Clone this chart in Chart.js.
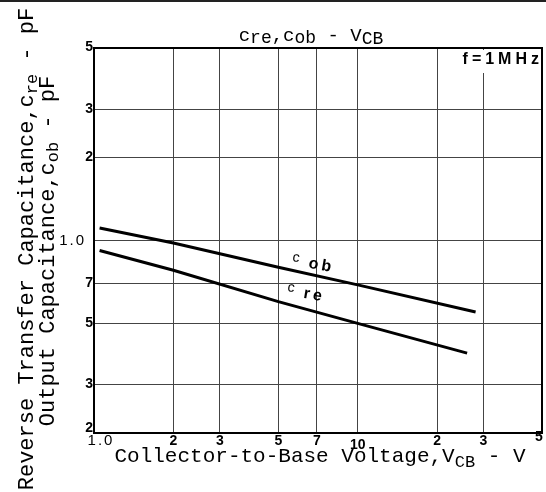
<!DOCTYPE html>
<html>
<head>
<meta charset="utf-8">
<script src="https://cdn.jsdelivr.net/npm/chart.js@4.4.1/dist/chart.umd.min.js"></script>
<style>
  html, body { margin: 0; padding: 0; background: #fff; }
  #wrap { width: 546px; height: 492px; }
</style>
</head>
<body>
<div id="wrap"><canvas id="cap"></canvas></div>
<script>
// Collector-to-base voltage (V) and capacitance readings (pF)
const vcbCob = [1.05, 2, 5, 10, 28];
const cob = [1.11, 0.98, 0.80, 0.69, 0.55];
const vcbCre = [1.05, 2, 5, 10, 26];
const cre = [0.92, 0.78, 0.60, 0.50, 0.39];

const xTicks = [1, 2, 3, 5, 7, 10, 20, 30, 50];
const xTickLabels = ['1.0', '2', '3', '5', '7', '10', '2', '3', '5'];
const yTicks = [0.2, 0.3, 0.5, 0.7, 1, 2, 3, 5];
const yTickLabels = ['2', '3', '5', '7', '1.0', '2', '3', '5'];

const MONO = '"Liberation Mono", "DejaVu Sans Mono", monospace';
const SANS = '"Liberation Sans", Arial, sans-serif';

// draw a run of text pieces [text, size, dy] centred on x
function drawParts(ctx, parts, x, y) {
    let total = 0;
    parts.forEach(p => {
        ctx.font = p[1] + 'px ' + MONO;
        total += ctx.measureText(p[0]).width;
    });
    let cx = x - total / 2;
    parts.forEach(p => {
        ctx.font = p[1] + 'px ' + MONO;
        ctx.fillText(p[0], cx, y + p[2]);
        cx += ctx.measureText(p[0]).width;
    });
}

const decor = {
    id: 'decor',
    afterDraw(chart) {
        const ctx = chart.ctx;
        const a = chart.chartArea;
        const xs = chart.scales.x, ys = chart.scales.y;
        ctx.save();

        // scan edge at the very top
        ctx.fillStyle = '#222';
        ctx.fillRect(0, 0, 546, 2);

        // plot frame
        ctx.strokeStyle = '#000';
        ctx.lineWidth = 2;
        ctx.strokeRect(a.left, a.top, a.right - a.left, a.bottom - a.top);

        // y tick labels
        ctx.fillStyle = '#000';
        ctx.textAlign = 'right';
        ctx.textBaseline = 'middle';
        yTicks.forEach((v, i) => {
            let py = ys.getPixelForValue(v);
            if (i === 0) py -= 5;
            if (i === yTicks.length - 1) py -= 1;
            if (yTickLabels[i] === '1.0') {
                ctx.font = '15px ' + SANS;
                ctx.letterSpacing = '2px';
                ctx.fillText('1.0', 86, py);
                ctx.letterSpacing = '0px';
            } else {
                ctx.font = 'bold 14px ' + SANS;
                ctx.fillText(yTickLabels[i], 93, py);
            }
        });

        // x tick labels
        ctx.textAlign = 'center';
        xTicks.forEach((v, i) => {
            let px = xs.getPixelForValue(v);
            let py = 441;
            if (i === 0) {
                ctx.font = '15px ' + SANS;
                ctx.letterSpacing = '2px';
                ctx.fillText('1.0', px + 7, py);
                ctx.letterSpacing = '0px';
                return;
            }
            if (xTickLabels[i] === '10') py = 445;
            if (i === xTicks.length - 1) { px -= 3; py = 437; }
            ctx.font = 'bold 14px ' + SANS;
            ctx.fillText(xTickLabels[i], px, py);
        });

        // chart title
        ctx.textAlign = 'left';
        ctx.textBaseline = 'alphabetic';
        drawParts(ctx, [['c', 19, 0], ['re', 18, 2], [',c', 19, 0], ['ob', 18, 2],
            [' - V', 19, 0], ['CB', 18, 3]], 311, 41);

        // x axis title
        drawParts(ctx, [['Collector-to-Base Voltage,V', 21, 0], ['CB', 17, 5], [' - V', 21, 0]], 320, 462);

        // y axis titles (two lines, rotated)
        ctx.save();
        ctx.translate(33, 249);
        ctx.rotate(-Math.PI / 2);
        drawParts(ctx, [['Reverse Transfer Capacitance,c', 22, 0], ['re', 17, 4], [' - pF', 22, 0]], 0, 0);
        ctx.restore();
        ctx.save();
        ctx.translate(54, 251);
        ctx.rotate(-Math.PI / 2);
        drawParts(ctx, [['Output Capacitance,c', 22, 0], ['ob', 17, 4], [' - pF', 22, 0]], 0, 0);
        ctx.restore();

        // frequency note
        ctx.fillStyle = '#fff';
        ctx.fillRect(455, 50, 85, 23);
        ctx.fillStyle = '#000';
        ctx.font = 'bold 16px ' + SANS;
        ctx.textAlign = 'right';
        ctx.textBaseline = 'middle';
        ctx.letterSpacing = '4px';
        ctx.fillText('f=1MHz', 543, 60);
        ctx.letterSpacing = '0px';

        // curve labels
        const tag = (c, sub, x, y) => {
            ctx.save();
            ctx.translate(x, y);
            ctx.rotate(0.17);
            ctx.textAlign = 'left';
            ctx.textBaseline = 'alphabetic';
            ctx.font = '14px ' + SANS;
            ctx.fillText(c, 0, 0);
            ctx.font = 'bold 16px ' + SANS;
            ctx.letterSpacing = '3px';
            ctx.fillText(sub, 17, 4);
            ctx.letterSpacing = '0px';
            ctx.restore();
        };
        tag('c', 'ob', 292, 261);
        tag('c', 're', 287, 291);

        ctx.restore();
    }
};

const gridColor = c => (c.tick && (c.index === 0 || c.index === c.scale.ticks.length - 1))
    ? 'rgba(0,0,0,0)' : '#444';

new Chart(document.getElementById('cap'), {
    type: 'line',
    data: {
        datasets: [
            {
                label: 'cob',
                data: vcbCob.map((v, i) => ({ x: v, y: cob[i] })),
                borderColor: '#000',
                borderWidth: 3,
                pointRadius: 0,
                tension: 0
            },
            {
                label: 'cre',
                data: vcbCre.map((v, i) => ({ x: v, y: cre[i] })),
                borderColor: '#000',
                borderWidth: 3,
                pointRadius: 0,
                tension: 0
            }
        ]
    },
    options: {
        responsive: true,
        maintainAspectRatio: false,
        animation: false,
        layout: { padding: { top: 48, right: 4, left: 0, bottom: 0 } },
        plugins: {
            legend: { display: false },
            tooltip: { enabled: false }
        },
        scales: {
            x: {
                type: 'logarithmic',
                min: 1,
                max: 50,
                afterBuildTicks: s => { s.ticks = xTicks.map(v => ({ value: v })); },
                afterFit: s => { s.height = 59; },
                ticks: { display: false },
                grid: { color: gridColor, lineWidth: 1, drawTicks: false },
                border: { display: false }
            },
            y: {
                type: 'logarithmic',
                min: 0.2,
                max: 5,
                afterBuildTicks: s => { s.ticks = yTicks.map(v => ({ value: v })); },
                afterFit: s => { s.width = 94; },
                ticks: { display: false },
                grid: { color: gridColor, lineWidth: 1, drawTicks: false },
                border: { display: false }
            }
        }
    },
    plugins: [decor]
});
</script>
</body>
</html>
